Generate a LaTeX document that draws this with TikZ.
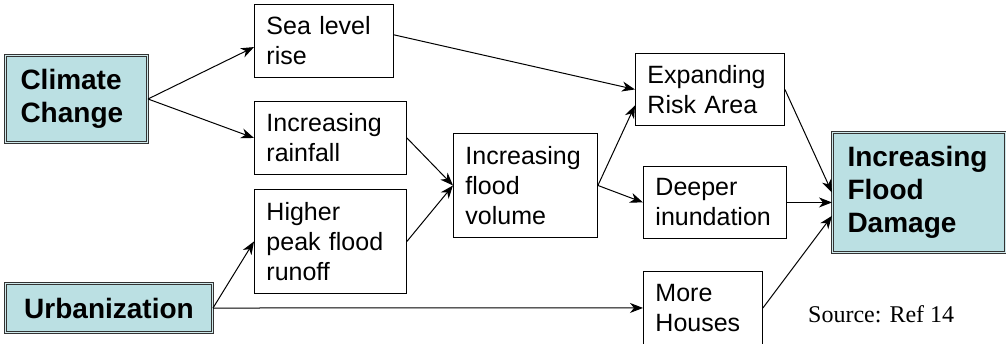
\documentclass[tikz,border=0pt]{standalone}
\usepackage{fontspec}
\setmainfont{Liberation Sans}
\newfontfamily\srcfont{Liberation Serif}
\usepackage{tikz}
\usetikzlibrary{arrows.meta,calc}
\definecolor{keycyan}{HTML}{BBE0E3}

\begin{document}
\begin{tikzpicture}[x=1pt,y=-1pt,>={Stealth[length=13pt,width=10pt,inset=4pt]},
  box/.style={draw,line width=0.9pt,anchor=north west,inner xsep=12pt,inner ysep=0pt,
              align=left,font=\fontsize{25}{30}\selectfont},
  key/.style={box,fill=keycyan,draw=black!80,line width=1pt,double=keycyan!70!white,
              double distance=1.4pt,inner xsep=15pt,font=\fontsize{28}{33}\bfseries\selectfont},
  arr/.style={->,line width=1pt}]
\useasboundingbox (0,0) rectangle (1006,343);
\node[key,minimum width=142pt,minimum height=87pt,text width=112pt] (clim) at (5,55) {Climate\\Change};
\node[key,minimum width=207pt,minimum height=49pt,text width=177pt,align=center] (urb) at (5,283) {Urbanization};
\node[box,minimum width=139pt,minimum height=73pt,text width=115pt] (sea) at (254,4) {Sea level\\rise};
\node[box,minimum width=152pt,minimum height=73pt,text width=128pt] (rain) at (254,101) {Increasing\\rainfall};
\node[box,minimum width=152pt,minimum height=104pt,text width=128pt] (peak) at (254,189) {Higher\\peak flood\\runoff};
\node[box,minimum width=144pt,minimum height=104pt,text width=120pt] (vol) at (453,133) {Increasing\\flood\\volume};
\node[box,minimum width=149pt,minimum height=72pt,text width=125pt] (risk) at (635,53) {Expanding\\Risk Area};
\node[box,minimum width=143pt,minimum height=72pt,text width=119pt] (deep) at (643,166) {Deeper\\inundation};
\node[box,minimum width=119pt,minimum height=73pt,text width=95pt] (houses) at (643,271) {More\\Houses};
\node[key,minimum width=173pt,minimum height=120pt,text width=143pt] (fd) at (832,132) {Increasing\\Flood\\Damage};
\node[anchor=base west,font=\srcfont\fontsize{24}{28}\selectfont,inner sep=0pt] (src) at (808,322) {Source: Ref 14};
\foreach \u/\v in {clim.east/sea.185,clim.east/rain.west,urb.east/peak.west,urb.east/houses.west,
                   rain.east/vol.west,peak.east/vol.west,sea.5/risk.west,vol.east/risk.192,
                   vol.east/deep.west,risk.east/fd.west,houses.east/fd.195}
  \draw[arr] (\u) -- (\v);
\draw[arr] (deep.east) -- (deep.east -| fd.west);
\end{tikzpicture}
\end{document}
